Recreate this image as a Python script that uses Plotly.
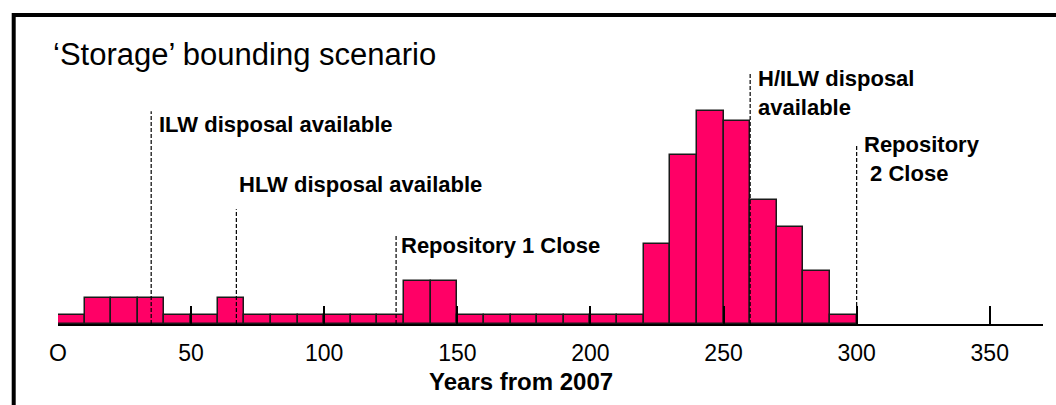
import plotly.graph_objects as go

# ---- data ----
bin_start = list(range(0, 300, 10))          # 10-year bins, years from 2007
bin_values = [1, 3, 3, 3, 1, 1, 3, 1, 1, 1,
              1, 1, 1, 5, 5, 1, 1, 1, 1, 1,
              1, 1, 9.2, 19.4, 24.5, 23.4, 14.3, 11.2, 6.1, 1]
tick_vals = [0, 50, 100, 150, 200, 250, 300, 350]
tick_text = ["O", "50", "100", "150", "200", "250", "300", "350"]

event_years = [35, 67, 127, 260, 300]
event_tops = [24.5, 13.2, 10.2, 29.0, 20.5]
event_labels = ["ILW disposal available", "HLW disposal available",
                "Repository 1 Close", "H/ILW disposal<br>available",
                "Repository<br>&nbsp;2 Close"]

title_text = "\u2018Storage\u2019 bounding scenario"
xaxis_title = "Years from 2007"

# ---- layout geometry ----
W, H = 1056, 405
ML, MR, MT, MB = 58, 13, 46, 81
XMAX, YMAX = 370, 32
PW, PH = W - ML - MR, H - MT - MB

def paper_x(px):
    return (px - ML) / PW

def paper_y(py):
    return (H - MB - py) / PH

label_px = [(157, 124), (237, 184), (399, 245), (756, 93), (862, 159)]

FONT = "Arial, Liberation Sans, Helvetica, sans-serif"

fig = go.Figure()
fig.add_trace(go.Bar(
    x=[b + 5 for b in bin_start], y=bin_values, width=10,
    marker=dict(color="#FF0066", line=dict(color="#1a1a1a", width=1.5)),
    hoverinfo="skip", showlegend=False,
))

shapes = []
for yr, top in zip(event_years, event_tops):
    shapes.append(dict(type="line", xref="x", yref="y", x0=yr, x1=yr, y0=0, y1=top,
                       line=dict(color="black", width=1.2, dash="4px,2px"), layer="above"))

# frame (top and left border)
shapes.append(dict(type="path", xref="paper", yref="paper",
                   path=f"M {paper_x(13.7)} {paper_y(420)} L {paper_x(13.7)} {paper_y(15)} L {paper_x(1070)} {paper_y(15)}",
                   line=dict(color="black", width=4)))

annotations = []
for lab, (lx, ly) in zip(event_labels, label_px):
    annotations.append(dict(x=paper_x(lx), y=paper_y(ly), xref="paper", yref="paper", text=f"<b>{lab}</b>",
                            showarrow=False, xanchor="left", yanchor="middle", align="left",
                            font=dict(family=FONT, size=22, color="black")))
annotations.append(dict(x=paper_x(51), y=paper_y(54.5), xref="paper", yref="paper", text=title_text,
                        showarrow=False, xanchor="left", yanchor="middle",
                        font=dict(family=FONT, size=31, color="black")))
annotations.append(dict(x=paper_x(521), y=paper_y(381), xref="paper", yref="paper", text=f"<b>{xaxis_title}</b>",
                        showarrow=False, xanchor="center", yanchor="middle",
                        font=dict(family=FONT, size=24, color="black")))

fig.update_layout(
    width=W, height=H, margin=dict(l=ML, r=MR, t=MT, b=MB),
    paper_bgcolor="white", plot_bgcolor="white", bargap=0,
    shapes=shapes, annotations=annotations,
    xaxis=dict(range=[0, XMAX], showgrid=False, zeroline=False, showline=True,
               linecolor="black", linewidth=2, ticks="inside", ticklen=18, tickwidth=1.5,
               tickcolor="black", tickvals=tick_vals, ticktext=tick_text,
               ticklabelstandoff=7,
               tickfont=dict(family=FONT, size=23, color="black")),
    yaxis=dict(range=[0, YMAX], visible=False),
)

fig.write_html("out.html", config={"displayModeBar": False},
               post_script="document.body.style.margin='0';")
